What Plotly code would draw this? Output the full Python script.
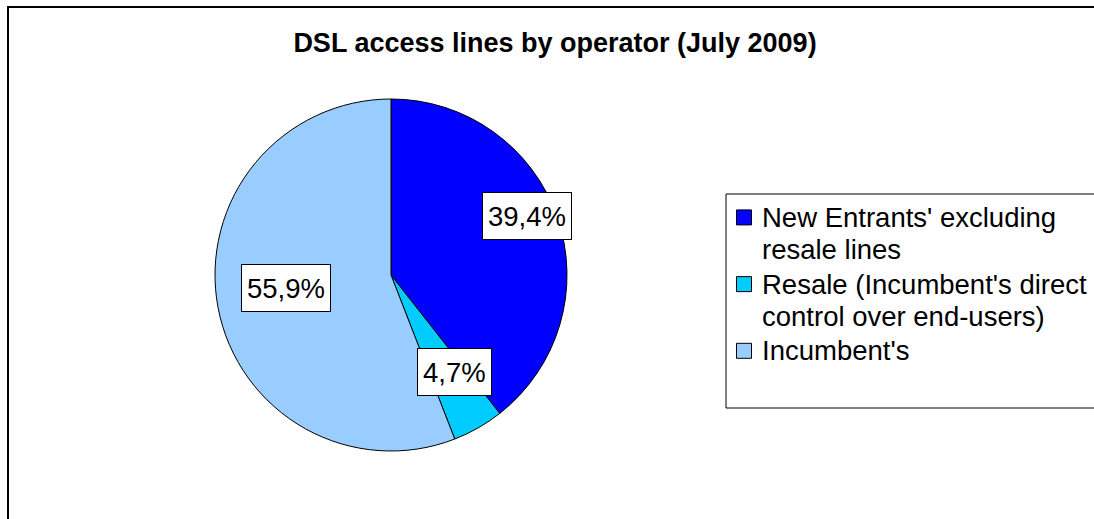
import math
import plotly.graph_objects as go

# ---- data ----
categories = ["New Entrants' excluding<br>resale lines",
              "Resale (Incumbent's direct<br>control over end-users)",
              "Incumbent's"]
shares = [39.4, 4.7, 55.9]
title_text = "DSL access lines by operator (July 2009)"

# ---- style ----
colors = ["#0000FF", "#00CCFF", "#99CCFF"]
label_radius = [0.842, 0.66, 0.60]   # radial position of boxed labels (fraction of R)
label_angle_shift = [-4.4, -3.7, 3.5]  # degrees, fine placement like the original
W, H = 1094, 519
FONT = "Liberation Sans, Arial, sans-serif"
TXT = 27.5

# pie placement in pixels
cx, cy, R = 391, 275, 176


def legend_text(s):
    # larger glyphs inside a tighter legend line pitch
    return "<br>".join(f'<span style="font-size:{TXT}px">{part}</span>' for part in s.split("<br>"))


fig = go.Figure()
fig.add_trace(go.Pie(
    labels=[legend_text(c) for c in categories],
    values=shares,
    sort=False,
    direction="clockwise",
    rotation=0,
    marker=dict(colors=colors, line=dict(color="black", width=1)),
    textinfo="none",
    hoverinfo="percent",
    domain=dict(x=[(cx - R) / W, (cx + R) / W],
                y=[(H - cy - R) / H, (H - cy + R) / H]),
))

# boxed percentage labels, positioned around each slice's mid angle
total = sum(shares)
cum = 0.0
annotations = []
for v, rf, da in zip(shares, label_radius, label_angle_shift):
    mid = (cum + v / 2) / total * 2 * math.pi + math.radians(da)
    cum += v
    px = cx + rf * R * math.sin(mid)
    py = cy - rf * R * math.cos(mid)
    annotations.append(dict(
        x=px / W, y=1 - py / H, xref="paper", yref="paper",
        text=f"{v / total * 100:.1f}".replace(".", ",") + "%",
        showarrow=False, xanchor="center", yanchor="middle",
        font=dict(family=FONT, size=TXT, color="black"),
        bgcolor="white", bordercolor="black", borderwidth=1, borderpad=5,
        height=36, valign="middle",
    ))

shapes = [
    # outer chart frame (extends beyond the visible area on right/bottom)
    dict(type="rect", xref="paper", yref="paper",
         x0=8 / W, y0=-0.2, x1=1.2, y1=1 - 7 / H,
         line=dict(color="black", width=2), fillcolor="rgba(0,0,0,0)"),
    # legend frame
    dict(type="rect", xref="paper", yref="paper",
         x0=726 / W, y0=1 - 408 / H, x1=1.2, y1=1 - 194 / H,
         line=dict(color="black", width=1), fillcolor="white", layer="below"),
]

fig.update_layout(
    width=W, height=H,
    margin=dict(l=0, r=0, t=0, b=0, autoexpand=False),
    paper_bgcolor="white",
    plot_bgcolor="white",
    font=dict(family=FONT, size=TXT, color="black"),
    title=dict(text=f"<b>{title_text}</b>", x=555 / W, y=1 - 43 / H,
               xanchor="center", yanchor="middle",
               font=dict(family=FONT, size=27, color="black")),
    showlegend=True,
    legend=dict(x=722 / W, y=1 - 195 / H, xanchor="left", yanchor="top",
                bgcolor="rgba(0,0,0,0)", borderwidth=0,
                valign="top", font=dict(family=FONT, size=24.5, color="black"),
                itemclick=False, itemdoubleclick=False),
    annotations=annotations,
    shapes=shapes,
)

post = (
    "document.body.style.margin='0';document.body.style.overflow='hidden';"
    "document.querySelectorAll('path.legendpie').forEach(function(p){"
    "p.setAttribute('d','M7.5,7.5H-7.5V-7.5H7.5Z');"
    "p.setAttribute('transform','translate(22,0)');});"
)

fig.write_html("out.html", config={"displayModeBar": False}, post_script=post)
